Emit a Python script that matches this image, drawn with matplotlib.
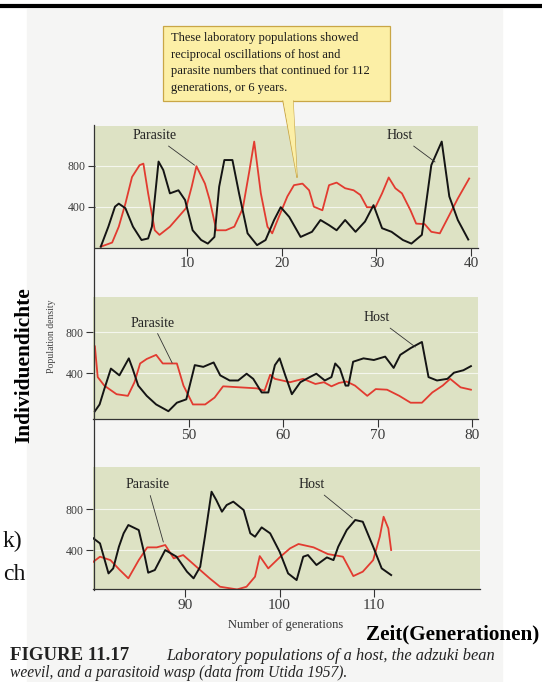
import numpy as np
import matplotlib.pyplot as plt
from matplotlib.patches import Rectangle, Polygon
from matplotlib.lines import Line2D

plt.rcParams['font.family'] = ['Liberation Serif', 'DejaVu Serif']

W, H = 542, 682

# generations 1-40
host_gen_a = [0.9, 1.7, 2.4, 2.8, 3.5, 4.3, 5.2, 5.9, 6.3, 7.0, 7.5, 8.2, 9.1, 9.8, 10.6,
              11.5, 12.2, 12.9, 13.4, 13.95, 14.8, 15.5, 16.4, 17.4, 18.3, 19.2, 19.9,
              20.8, 22.0, 23.2, 24.1, 25.0, 25.8, 26.7, 27.8, 28.8, 29.7, 30.6, 31.6,
              32.8, 33.7, 34.8, 35.8, 36.9, 37.7, 38.6, 39.7]
host_a = [10, 205, 400, 430, 385, 205, 75, 90, 205, 840, 757, 530, 560, 465, 170,
          75, 40, 105, 595, 855, 855, 530, 140, 25, 75, 270, 395,
          300, 105, 155, 270, 220, 170, 270, 155, 255, 415, 190, 155,
          75, 40, 125, 805, 1035, 500, 270, 80]
para_gen_a = [0.9, 2.1, 2.8, 3.5, 4.2, 5.0, 5.4, 5.9, 6.6, 7.1, 8.2, 9.9, 10.5, 11.0,
              11.9, 12.4, 13.1, 14.1, 15.0, 15.9, 16.6, 17.1, 17.8, 18.5, 19.0, 19.7,
              20.6, 21.3, 22.2, 22.9, 23.4, 24.3, 25.0, 25.8, 26.7, 27.6, 28.3, 29.0,
              29.9, 30.6, 31.3, 32.0, 32.7, 33.6, 34.2, 35.1, 35.8, 36.7, 37.6, 38.6, 39.8]
para_a = [10, 50, 205, 430, 690, 805, 820, 530, 170, 125, 205, 385, 595, 795,
          625, 465, 170, 170, 205, 385, 755, 1035, 530, 205, 140, 300,
          500, 610, 625, 560, 400, 365, 610, 635, 580, 560, 515, 395,
          395, 530, 685, 580, 530, 365, 235, 230, 155, 140, 300, 480, 675]

# generations 40-80
host_gen_b = [40.0, 40.5, 41.0, 41.7, 42.6, 43.6, 44.0, 44.6, 45.5, 46.5, 47.8, 48.7,
              49.7, 50.6, 51.5, 52.6, 53.3, 54.3, 55.2, 56.1, 56.8, 57.7, 58.4, 59.1,
              59.6, 60.2, 60.9, 61.8, 62.8, 63.5, 64.4, 65.1, 65.5, 66.0, 66.6, 66.9,
              67.4, 68.5, 69.6, 70.8, 71.7, 72.4, 73.5, 74.7, 75.4, 76.3, 77.4, 78.1,
              79.1, 79.9]
host_b = [27, 93, 243, 443, 377, 543, 443, 277, 177, 93, 27, 110,
          143, 477, 460, 503, 377, 327, 327, 393, 343, 210, 210, 477,
          543, 377, 193, 310, 360, 393, 327, 360, 493, 443, 277, 277,
          510, 543, 527, 560, 450, 577, 643, 703, 360, 327, 343, 403,
          427, 467]
para_gen_b = [40.0, 40.3, 41.0, 42.3, 43.5, 44.2, 44.8, 45.5, 46.5, 47.2, 47.9, 48.7,
              49.4, 50.4, 51.7, 52.7, 53.6, 55.4, 57.2, 58.0, 58.6, 59.1, 60.7, 62.1,
              63.4, 64.3, 65.1, 65.9, 66.7, 67.6, 68.9, 69.8, 71.0, 72.3, 73.5, 74.7,
              75.8, 76.9, 77.7, 78.8, 79.9]
para_b = [660, 360, 277, 193, 177, 310, 493, 537, 577, 493, 493, 493,
          277, 93, 93, 160, 270, 260, 250, 227, 383, 343, 310, 343,
          293, 310, 270, 303, 317, 277, 177, 243, 237, 177, 110, 110,
          210, 277, 343, 260, 237]

# generations 80-112
host_gen_c = [80.3, 81.0, 81.5, 81.9, 82.4, 83.0, 83.5, 84.0, 85.1, 85.6, 86.1, 86.8,
              87.9, 89.1, 90.2, 90.9, 91.6, 92.1, 92.8, 93.3, 93.9, 94.4, 95.1, 96.2,
              96.9, 97.4, 98.1, 99.0, 100.0, 100.9, 101.8, 102.5, 103.0, 103.9, 105.0,
              105.7, 106.2, 107.1, 108.0, 108.8, 109.9, 110.8, 111.8]
host_c = [514, 465, 302, 172, 221, 432, 563, 644, 595, 400, 179, 205,
          400, 335, 189, 124, 237, 530, 969, 888, 774, 839, 872, 790,
          563, 530, 621, 563, 384, 172, 107, 335, 351, 254, 328,
          302, 432, 595, 693, 676, 432, 221, 156]
para_gen_c = [80.3, 81.0, 82.1, 83.1, 84.0, 85.1, 86.0, 87.0, 87.9, 88.8, 89.8, 91.2,
              92.6, 93.7, 95.5, 96.5, 97.4, 97.9, 98.8, 100.0, 101.1, 102.0, 103.6,
              105.1, 106.7, 107.8, 108.8, 109.9, 110.6, 111.0, 111.5, 111.8]
para_c = [286, 335, 302, 205, 124, 302, 426, 426, 449, 319, 351, 237,
          124, 42, 16, 42, 140, 341, 221, 328, 416, 459, 426,
          361, 335, 146, 189, 302, 530, 725, 611, 400]

xticks = [[10, 20, 30, 40], [50, 60, 70, 80], [90, 100, 110]]
yticks = [400, 800]

callout_lines = ['These laboratory populations showed',
                 'reciprocal oscillations of host and',
                 'parasite numbers that continued for 112',
                 'generations, or 6 years.']

BG = '#dde2c4'
RED = '#e23b30'
INK = '#141414'


def px(x, y):
    return x / W, 1 - y / H


fig = plt.figure(figsize=(W / 100, H / 100), dpi=100)

# faint page area and top rule
fig.patches.append(Rectangle(px(27, 682), (502 - 27) / W, (682 - 9) / H,
                             transform=fig.transFigure, color='#f5f5f4', zorder=-5))
fig.lines.append(Line2D([0, 1], [1 - 5.5 / H] * 2, transform=fig.transFigure,
                        color='black', lw=3.0))

# panel rectangles in pixels: left, top, right, bottom
boxes = [(95, 126, 478, 247.7), (93, 297, 478, 419), (93, 467, 480, 589)]
xlims = [(0.29, 40.73), (39.8, 80.65), (80.26, 121.2)]
ylims = [(0, 1187), (-49, 1142), (20, 1210)]
series = [(host_gen_a, host_a, para_gen_a, para_a),
          (host_gen_b, host_b, para_gen_b, para_b),
          (host_gen_c, host_c, para_gen_c, para_c)]
# label text position and leader tip (generation, density)
labels = [
    ((6.6, 1090), (10.8, 805), (32.5, 1090), (36.2, 836)),
    ((46.1, 888), (48.2, 498), (69.9, 937), (74.0, 654)),
    ((86.0, 1035), (87.7, 478), (103.4, 1035), (107.7, 712)),
]

axes = []
for i, (l, t, r, b) in enumerate(boxes):
    ax = fig.add_axes([l / W, 1 - b / H, (r - l) / W, (b - t) / H])
    ax.set_facecolor(BG)
    hg, hv, pg, pv = series[i]
    ax.plot(pg, pv, color=RED, lw=1.3, solid_joinstyle='round')
    ax.plot(hg, hv, color=INK, lw=1.4, solid_joinstyle='round')
    ax.set_xlim(*xlims[i])
    ax.set_ylim(*ylims[i])
    ax.set_xticks(xticks[i])
    ax.set_yticks(yticks)
    ax.yaxis.grid(True, color='white', lw=0.8, alpha=0.7)
    ax.set_axisbelow(True)
    for s in ['top', 'right', 'left']:
        ax.spines[s].set_visible(False)
    ax.spines['bottom'].set_color('#333333')
    ax.spines['bottom'].set_linewidth(0.9)
    ax.tick_params(axis='x', direction='out', length=6, width=0.8, color='#333333',
                   labelsize=11, labelcolor='#3a3a3a', pad=1)
    ax.tick_params(axis='y', direction='out', length=5, width=0.8, color='#333333',
                   labelsize=8.5, labelcolor='#3a3a3a', pad=2)
    ptxt, ptip, htxt, htip = labels[i]
    lead = dict(arrowstyle='-', lw=0.6, color='#333333', shrinkA=1, shrinkB=0)
    ax.annotate('Parasite', xy=ptip, xytext=ptxt, ha='center', va='center',
                fontsize=10, color='#222222', arrowprops=lead)
    ax.annotate('Host', xy=htip, xytext=htxt, ha='center', va='center',
                fontsize=10, color='#222222', arrowprops=lead)
    axes.append(ax)

# one continuous left axis line through all three panels
fig.lines.append(Line2D([94 / W] * 2, [1 - 125 / H, 1 - 590 / H],
                        transform=fig.transFigure, color='#333333', lw=0.9))

fig.text(*px(52, 336), 'Population density', rotation=90, ha='center', va='center',
         fontsize=7, color='#444444')
fig.text(*px(24, 365), 'Individuendichte', rotation=90, ha='center', va='center',
         fontsize=15.4, fontweight='bold', color='black')
fig.text(*px(286, 625), 'Number of generations', ha='center', va='center',
         fontsize=9, color='#333333')
fig.text(*px(453, 634), 'Zeit(Generationen)', ha='center', va='center',
         fontsize=15.2, fontweight='bold', color='black')
fig.text(*px(22, 541), 'k)', ha='right', va='center', fontsize=17, color='#111111')
fig.text(*px(25, 575), 'ch', ha='right', va='center', fontsize=17, color='#111111')

# caption
fig.text(*px(10, 656), 'FIGURE 11.17', ha='left', va='center', fontsize=13.5,
         fontweight='bold', color='#222222')
fig.text(*px(166, 656), 'Laboratory populations of a host, the adzuki bean',
         ha='left', va='center', fontsize=11.8, style='italic', color='#222222')
fig.text(*px(10, 673), 'weevil, and a parasitoid wasp (data from Utida 1957).',
         ha='left', va='center', fontsize=11.2, style='italic', color='#222222')

# callout box with pointer
fig.patches.append(Rectangle(px(163, 101), (390 - 163) / W, (101 - 26) / H,
                             transform=fig.transFigure, facecolor='#fcefa6',
                             edgecolor='#c9a646', lw=0.9, zorder=5))
fig.patches.append(Polygon([px(283, 99), px(293, 99), px(297, 177)],
                           closed=True, transform=fig.transFigure,
                           facecolor='#fcefa6', edgecolor='none', zorder=6))
for x0 in (283, 293):
    fig.lines.append(Line2D([x0 / W, 297 / W], [1 - 101 / H, 1 - 177 / H],
                            transform=fig.transFigure, color='#c9a646', lw=0.9,
                            zorder=6))
for k, line in enumerate(callout_lines):
    fig.text(*px(171, 38 + k * 16.7), line, ha='left', va='center', fontsize=9,
             color='#1a1a1a', zorder=7)

fig.savefig('out.png', dpi=100)
